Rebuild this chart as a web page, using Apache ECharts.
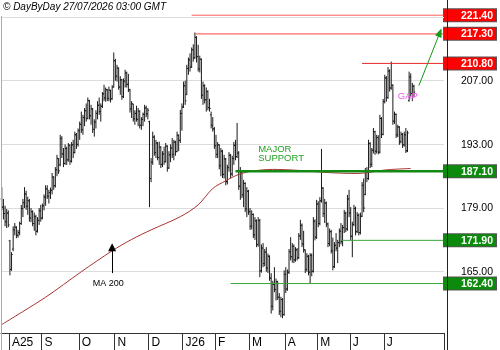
<!DOCTYPE html>
<html>
<head>
<meta charset="utf-8">
<script src="https://cdn.jsdelivr.net/npm/echarts@6/dist/echarts.min.js"></script>
<style>
  html, body { margin: 0; padding: 0; background: #fff; }
  #chart { width: 500px; height: 350px; }
</style>
</head>
<body>
<div id="chart"></div>
<script>
// daily bars, [open, high, low, close]
var jul25 = [[181.0,183.6,178.5,179.2],[179.2,181.0,176.5,177.8],[177.8,179.5,175.0,176.0],[176.0,178.8,174.6,177.9],[177.9,178.5,174.8,175.3]];
var aug25 = [[171.8,172.0,164.2,165.5],[165.5,169.3,165.2,168.8],[170.0,175.0,169.5,174.2],[174.2,175.7,173.0,174.8],[174.8,175.0,172.4,173.0],
  [173.0,174.2,172.5,173.6],[173.6,176.0,173.0,175.6],[175.6,179.7,175.3,178.9],[178.9,181.0,177.0,180.2],[180.2,183.6,179.0,182.1],
  [182.1,182.8,178.6,179.4],[179.4,181.5,177.5,180.6],[180.6,181.0,176.0,176.8],[176.8,179.0,175.9,178.2],[178.2,178.5,175.0,175.6],
  [175.6,178.0,174.0,177.1],[177.1,177.5,173.0,173.9],[173.9,177.0,173.6,176.3],[176.3,179.0,175.3,178.4],[178.4,179.7,176.0,176.8]];
var sep25 = [[176.8,180.0,176.5,179.5],[179.5,182.0,178.5,181.4],[181.4,184.0,179.5,183.2],[183.2,184.0,181.0,181.6],[181.6,183.0,180.0,182.4],
  [182.4,183.5,181.0,182.9],[182.9,186.7,182.0,185.8],[185.8,186.0,183.0,183.9],[183.9,188.0,183.5,187.4],[187.4,190.7,186.0,189.9],
  [189.9,190.0,186.5,187.2],[188.5,195.1,188.2,194.3],[194.3,194.8,190.0,190.9],[190.9,192.2,188.0,188.8],[188.8,193.0,188.5,192.1],
  [192.1,192.5,188.5,189.6],[189.6,193.3,189.2,192.8],[192.8,193.0,188.5,189.3],[189.3,193.5,189.0,192.9],[192.9,194.0,190.0,191.2],
  [191.2,195.8,191.0,195.1],[195.1,195.5,192.0,193.0],[193.0,196.5,192.5,196.0]];
var oct25 = [[196.0,198.0,194.0,197.4],[197.4,200.2,195.5,196.2],[196.2,199.5,195.1,198.9],[198.9,201.0,197.0,200.4],[200.4,202.0,198.0,198.7],
  [198.7,203.3,198.5,202.6],[202.6,202.8,198.5,199.3],[199.3,201.7,197.3,200.8],[200.8,201.0,195.5,196.3],[196.3,198.5,194.7,197.9],
  [197.9,200.5,196.5,199.8],[199.8,202.5,198.5,201.6],[201.6,203.3,199.5,200.2],[200.2,202.0,198.0,201.4],[201.4,204.5,201.0,204.1],
  [204.1,206.1,202.5,203.2],[203.2,205.5,202.4,205.0],[205.0,205.2,202.5,203.1],[203.1,205.7,202.5,204.9],[204.9,205.0,202.2,203.0],
  [203.0,206.0,202.8,205.6],[205.6,213.2,205.5,211.4]];
var nov25 = [[211.4,211.8,207.0,208.0],[208.0,210.5,206.8,209.8],[209.8,209.9,205.0,205.6],[205.6,208.0,203.9,207.2],[207.2,207.4,202.8,203.5],
  [203.5,207.5,203.2,206.9],[206.9,209.4,205.5,208.7],[208.7,209.0,205.5,206.2],[206.2,208.5,204.5,205.0],[205.0,205.2,200.0,200.8],
  [200.8,202.5,198.8,201.9],[201.9,201.9,198.0,198.6],[198.6,200.5,197.3,199.8],[199.8,201.5,198.0,198.5],[198.5,201.0,197.0,200.3],
  [200.3,200.5,196.5,197.2],[197.2,199.0,196.2,198.5],[198.5,200.0,197.0,199.6],[199.6,201.7,198.0,201.0],[201.0,201.5,199.0,199.7],
  [199.7,201.0,198.5,200.5]];
var dec25 = [[198.0,198.2,179.2,185.5],[185.5,190.0,184.7,189.1],[189.1,195.8,188.5,194.6],[194.6,195.0,190.5,191.2],[191.2,194.0,190.0,193.3],
  [193.3,193.5,189.5,190.1],[190.1,193.6,188.5,192.4],[192.4,192.6,187.8,188.6],[188.6,191.5,188.0,190.9],[190.9,192.5,188.5,189.2],
  [189.2,193.3,189.0,192.6],[192.6,192.8,187.0,187.8],[187.8,191.5,187.6,190.7],[190.7,193.0,189.1,192.2],[192.2,194.4,190.0,190.8],
  [190.8,194.0,189.5,193.5],[193.5,193.8,190.5,191.4],[191.4,195.8,191.3,195.0],[195.0,195.2,191.5,193.9],[193.9,200.6,193.3,199.8],
  [199.8,202.0,196.0,201.2]];
var jan26 = [[201.2,206.8,201.0,205.9],[205.9,207.0,201.7,202.6],[204.0,210.5,203.8,209.7],[209.7,212.1,208.3,211.6],[211.6,213.0,209.0,210.0],
  [210.0,214.3,209.8,213.8],[213.8,215.0,211.2,212.0],[212.0,217.6,211.8,216.5],[216.5,216.8,211.0,212.3],[212.3,214.9,209.0,209.6],
  [209.6,212.5,208.8,211.7],[211.7,211.9,203.0,203.8],[203.8,206.8,201.7,205.9],[205.9,206.2,202.0,202.8],[202.8,205.5,200.2,204.6],
  [204.6,204.9,200.5,201.1],[201.1,203.0,200.2,200.9],[199.5,200.2,196.5,197.2],[197.2,199.0,195.8,196.4],[196.4,196.8,192.0,192.7]];
var feb26 = [[192.7,195.1,190.0,190.8],[190.8,193.5,190.0,192.9],[192.9,193.0,187.5,188.3],[188.3,192.2,186.0,191.5],[191.5,191.8,185.6,186.4],
  [186.4,190.7,185.5,189.8],[189.8,190.0,184.0,184.8],[184.8,188.5,184.2,187.9],[187.9,191.3,187.0,190.6],[190.6,190.9,185.6,186.5],
  [186.5,190.5,186.0,189.9],[189.9,193.5,188.5,192.8],[192.8,194.0,189.5,190.3],[190.3,197.7,190.0,191.1],[191.1,191.5,183.0,183.8],
  [183.8,188.0,180.8,186.9],[186.9,187.0,181.2,181.9],[181.9,185.2,179.2,184.4],[184.4,184.7,178.1,178.8],[178.8,183.6,177.0,182.7],
  [182.7,183.0,177.5,178.2]];
var mar26 = [[178.2,179.0,174.2,175.0],[175.0,178.5,174.3,177.6],[177.6,177.8,172.4,173.1],[173.1,177.0,172.0,176.2],[176.2,176.5,170.4,171.0],
  [171.0,177.0,170.5,176.3],[176.3,176.6,163.8,165.2],[165.2,171.0,164.8,170.2],[170.2,171.3,166.0,166.8],[166.8,170.0,166.2,169.3],
  [169.3,170.4,165.0,165.8],[165.8,169.0,164.7,168.4],[168.4,168.6,163.0,163.6],[163.6,164.7,155.8,157.4],[157.4,163.0,156.5,162.2],
  [162.2,166.0,160.5,161.1],[161.1,163.5,158.7,162.8],[162.8,163.0,158.8,159.4],[159.4,160.3,155.5,156.3],[156.3,159.5,155.0,158.9],
  [158.9,159.2,154.8,155.6],[155.6,165.3,155.3,164.4]];
var apr26 = [[164.4,166.0,160.3,161.2],[161.2,165.5,160.8,164.9],[164.9,170.0,164.5,169.4],[169.4,172.6,167.5,168.3],[168.3,171.3,167.0,170.6],
  [170.6,171.0,166.9,167.6],[167.6,170.4,167.2,169.8],[169.8,170.2,167.5,168.1],[168.1,173.5,167.8,172.9],[172.9,176.4,172.0,175.2],
  [175.2,175.6,170.4,171.1],[171.1,174.0,169.2,169.8],[169.8,169.9,164.7,165.5],[165.5,169.1,165.0,168.4],[168.4,168.7,164.2,164.9],
  [164.9,169.1,162.5,168.6],[168.6,169.0,164.0,165.1],[165.1,177.0,164.8,176.1],[176.1,176.5,171.9,172.6],[172.6,180.8,172.2,179.9]];
var may26 = [[179.9,180.5,174.8,175.6],[175.6,181.4,175.2,180.6],[180.6,192.0,180.2,183.4],[183.4,183.6,177.0,177.8],[177.8,181.0,175.7,180.1],
  [180.1,180.4,174.8,175.5],[175.5,175.8,170.4,171.2],[171.2,174.5,170.6,173.8],[173.8,174.2,169.0,169.6],[169.6,172.5,165.3,166.1],
  [166.1,171.5,165.8,170.8],[170.8,173.5,169.5,170.2],[170.2,172.0,166.9,171.4],[171.4,174.5,170.4,173.9],[173.9,175.7,171.0,171.6],
  [171.6,175.3,170.6,174.7],[174.7,178.6,173.5,177.9],[177.9,178.2,173.7,174.4],[174.4,181.9,174.0,181.0],[181.0,183.0,177.0,177.9]];
var jun26 = [[177.9,179.2,172.0,172.8],[172.8,176.0,168.2,175.4],[175.4,179.7,175.0,178.9],[178.9,179.3,173.0,173.8],[173.8,178.1,173.5,177.4],
  [177.4,177.8,173.0,173.6],[173.6,178.0,173.2,177.2],[177.2,184.7,177.0,184.0],[184.0,185.5,178.1,179.0],[182.0,187.8,181.8,187.1],
  [187.1,188.0,184.7,185.5],[185.5,194.0,185.2,193.2],[193.2,193.5,187.8,188.6],[188.6,192.2,188.0,191.7],[191.7,196.6,191.0,195.8],
  [195.8,196.0,190.7,191.5],[191.5,195.1,191.0,194.5],[194.5,195.0,190.8,191.3],[191.3,199.5,191.0,198.7],[198.7,199.0,194.4,195.2],
  [195.2,203.0,195.0,202.4]];
var jul26 = [[202.4,208.3,202.0,207.6],[207.6,208.0,202.4,203.3],[203.3,210.0,203.0,209.1],[209.1,209.5,204.6,205.4],[205.4,211.2,205.0,206.0],
  [206.0,206.2,197.3,198.1],[198.1,200.2,197.5,199.6],[199.6,199.8,194.4,195.1],[195.1,197.3,194.6,196.8],[196.8,197.0,192.9,193.6],
  [193.6,195.8,193.2,195.2],[195.2,195.5,192.2,192.9],[192.9,195.8,192.5,195.1],[195.1,196.6,191.1,191.6],[191.6,196.0,191.3,195.5],
  [202.6,209.0,202.4,207.8],[207.8,208.6,203.5,204.2],[204.2,206.5,202.5,205.8],[205.8,206.1,203.3,204.5]];

var months = [jul25, aug25, sep25, oct25, nov25, dec25, jan26, feb26, mar26, apr26, may26, jun26, jul26];
var monthLabels = ['', 'A25', 'S', 'O', 'N', 'D', 'J26', 'F', 'M', 'A', 'M', 'J', 'J'];
var emptyDays = 18;

// MA 200 read at some bars: [bar index, value]
var maIdx = [0, 27, 49, 68, 80, 92, 110, 121, 130, 138, 146, 154, 167, 182, 201, 219, 237, 252];
var maVal = [153.4, 159.4, 165.0, 169.6, 172.1, 174.2, 177.1, 179.7, 183.3, 185.0, 186.4, 187.1, 187.5, 187.3, 186.8, 186.6, 187.4, 187.7];

// horizontal levels
var levelValues = [221.4, 217.3, 210.8, 187.1, 171.9, 162.4];
var levelStart = [117, 119, 222, 144, 209, 141];
var levelKind = ['red', 'red', 'red', 'green', 'green', 'green'];
var gridValues = [165, 179, 193, 207, 221];
var plainLabels = [165, 179, 193, 207];

var bars = [];
var monthStart = {};
months.forEach(function (m, k) {
    if (monthLabels[k]) monthStart[bars.length] = monthLabels[k];
    m.forEach(function (b) { bars.push([bars.length].concat(b)); });
});
var cats = [];
for (var i = 0; i < bars.length + emptyDays; i++) cats.push(String(i));
var lastCat = cats.length - 1;

var maData = maIdx.map(function (x, k) { return [x, maVal[k]]; });

var levelStyles = [
    { color: '#ff5c5c', width: 1 },
    { color: '#ff6a6a', width: 1.3 },
    { color: '#e82a2a', width: 1 },
    { color: '#138a13', width: 2.5 },
    { color: '#3aa63a', width: 1 },
    { color: '#3aa63a', width: 1 }
];
var levelSeries = levelValues.map(function (v, k) {
    return {
        name: 'level ' + v, type: 'line', z: 6, silent: true,
        data: [[levelStart[k], v], [lastCat, v]],
        showSymbol: false, symbol: 'none',
        lineStyle: levelStyles[k]
    };
});

var font = '"Liberation Sans", Arial, sans-serif';
var arrowBlack = { color: '#000', width: 1, type: 'solid' };
var arrowGreen = { color: '#169916', width: 1, type: 'solid' };

var chart = echarts.init(document.getElementById('chart'));
chart.setOption({
    animation: false,
    backgroundColor: '#fff',
    grid: { left: 1, right: 53, top: 0, bottom: 17 },
    xAxis: {
        type: 'category',
        data: cats,
        boundaryGap: true,
        axisLine: { lineStyle: { color: '#333', width: 1 } },
        axisTick: {
            show: true, length: 17,
            interval: function (idx) { return monthStart[idx] !== undefined; },
            lineStyle: { color: '#333' }
        },
        axisLabel: {
            interval: function (idx) { return monthStart[idx] !== undefined; },
            formatter: function (v, idx) { return monthStart[idx] || ''; },
            align: 'left', padding: [0, 0, 0, 2], margin: 4,
            fontSize: 12, color: '#000', fontFamily: font
        },
        splitLine: { show: false }
    },
    yAxis: {
        type: 'value', position: 'right',
        min: 151.53, max: 224.74,
        splitLine: { show: false },
        axisLine: { show: false },
        axisTick: { show: false },
        axisLabel: {
            customValues: levelValues.concat(plainLabels),
            margin: 0,
            formatter: function (v) {
                var k = levelValues.indexOf(v);
                var kind = k >= 0 ? levelKind[k] : 'plain';
                return '{' + kind + '|' + v.toFixed(2) + '}';
            },
            rich: {
                red: { backgroundColor: '#ff0000', borderColor: '#555', borderWidth: 1, color: '#fff', fontWeight: 'bold',
                    fontSize: 10.5, fontFamily: font, width: 47, align: 'right', padding: [1, 3, 0, 2], lineHeight: 10 },
                green: { backgroundColor: '#0b8a0b', borderColor: '#555', borderWidth: 1, color: '#fff', fontWeight: 'bold',
                    fontSize: 10.5, fontFamily: font, width: 47, align: 'right', padding: [1, 3, 0, 2], lineHeight: 10 },
                plain: { color: '#000', fontSize: 10.5, fontFamily: font, width: 47, align: 'right', padding: [1, 3, 0, 2], lineHeight: 10 }
            }
        }
    },
    graphic: [
        { type: 'text', left: 3, top: 2, style: { text: '\u00a9 DayByDay 27/07/2026 03:00 GMT', font: 'italic 10px ' + font, fill: '#000' } },
        { type: 'line', shape: { x1: 447.5, y1: 0, x2: 447.5, y2: 350 }, style: { stroke: '#222', lineWidth: 1 }, z: 10 },
        { type: 'line', shape: { x1: 1.5, y1: 16, x2: 1.5, y2: 350 }, style: { stroke: '#aaa', lineWidth: 1 }, z: 10 }
    ],
    series: [
        {
            name: 'grid', type: 'line', data: [], silent: true,
            markLine: {
                z: 1, silent: true, symbol: 'none', label: { show: false },
                lineStyle: { color: '#dcdcdc', width: 1, type: 'solid' },
                data: gridValues.map(function (v) { return { yAxis: v }; })
            }
        },
        {
            name: 'ohlc', type: 'custom', z: 2,
            data: bars,
            encode: { x: 0, y: [1, 2, 3, 4] },
            renderItem: function (params, api) {
                var i = api.value(0);
                var h = api.coord([i, api.value(2)]);
                var l = api.coord([i, api.value(3)]);
                var o = api.coord([i, api.value(1)]);
                var c = api.coord([i, api.value(4)]);
                var st = { stroke: '#1a1a1a', lineWidth: 1 };
                return {
                    type: 'group', children: [
                        { type: 'line', shape: { x1: h[0], y1: h[1], x2: l[0], y2: l[1] }, style: st },
                        { type: 'line', shape: { x1: o[0] - 1.2, y1: o[1], x2: o[0], y2: o[1] }, style: st },
                        { type: 'line', shape: { x1: c[0], y1: c[1], x2: c[0] + 1.2, y2: c[1] }, style: st }
                    ]
                };
            }
        },
        {
            name: 'MA 200', type: 'line', z: 3, data: maData, smooth: 0.3,
            showSymbol: false, symbol: 'none',
            lineStyle: { color: '#a83232', width: 1 }
        },
        {
            name: 'notes', type: 'line', data: [], silent: true,
            markLine: {
                z: 7, silent: true, symbol: 'none', label: { show: false },
                data: [
                    [{ coord: [68, 164.7], symbol: 'none', lineStyle: arrowBlack,
                        label: { show: true, position: 'start', formatter: 'MA 200', color: '#000', fontSize: 9,
                            fontFamily: font, distance: 6, padding: [0, 8, 0, 0] } },
                     { coord: [68, 170.4], symbol: 'triangle', symbolSize: [8, 8], lineStyle: arrowBlack }],
                    [{ coord: [257, 205.9], symbol: 'none', lineStyle: arrowGreen },
                     { coord: [270, 217.6], symbol: 'triangle', symbolSize: [7, 9], lineStyle: arrowGreen }]
                ]
            },
            markPoint: {
                z: 7, silent: true, symbol: 'circle', symbolSize: 0,
                data: [
                    { coord: [158, 190.9], label: { show: true, position: 'right', distance: 0, formatter: 'MAJOR\nSUPPORT',
                        color: '#23a023', fontSize: 9.5, lineHeight: 9, fontFamily: font } },
                    { coord: [244, 203.5], label: { show: true, position: 'right', distance: 0, formatter: 'GAP',
                        color: '#ee55ee', fontSize: 9.5, fontFamily: font } }
                ]
            }
        }
    ].concat(levelSeries)
});
</script>
</body>
</html>
